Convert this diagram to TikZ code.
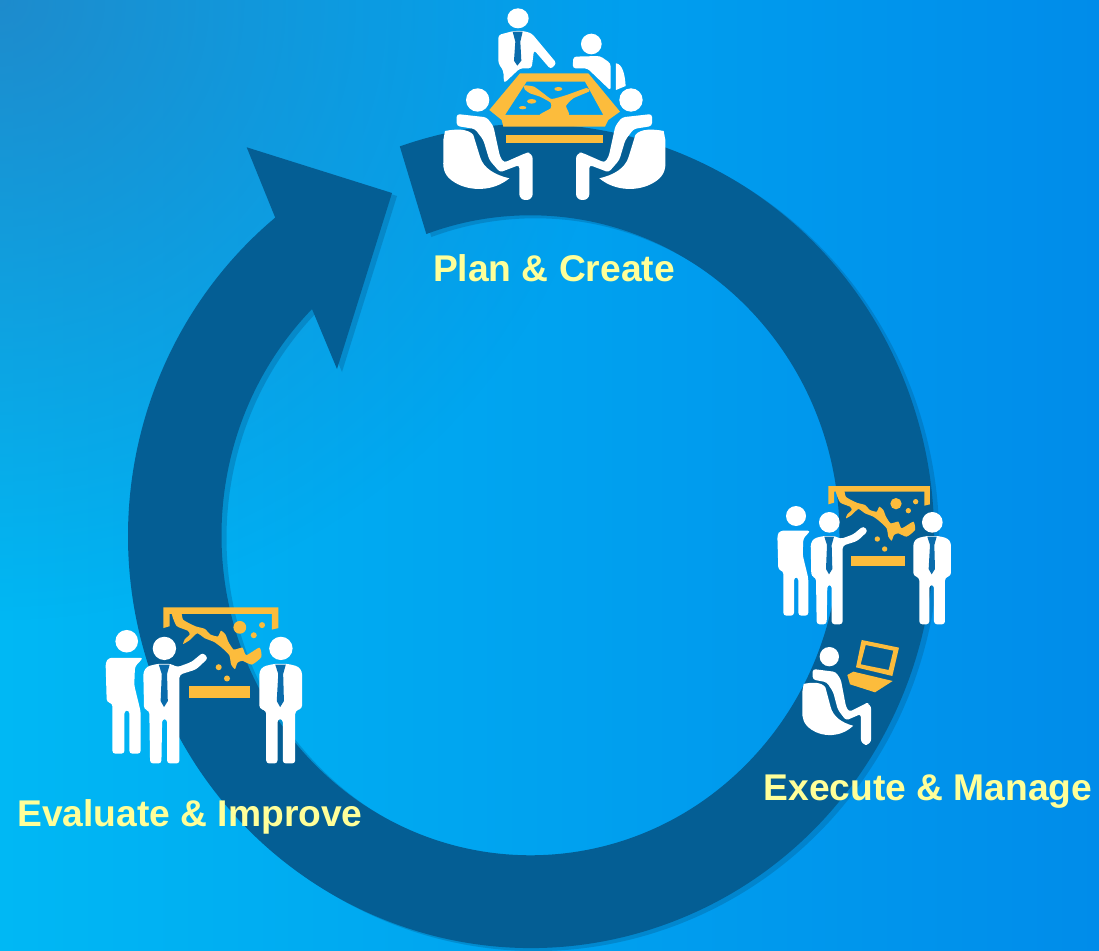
\documentclass[tikz,border=0pt]{standalone}
\usepackage{fontspec}
\setmainfont{Liberation Sans}
\usetikzlibrary{
  fadings,
  positioning
}
\definecolor{bgleft}{HTML}{00B8F4}
\definecolor{bgright}{HTML}{008CEA}
\definecolor{bgcorner}{HTML}{2A78BC}
\definecolor{ringblue}{HTML}{045E94}
\definecolor{gold}{HTML}{FCBC3C}
\definecolor{tieblue}{HTML}{0A6CAC}
\definecolor{labelyellow}{HTML}{FFFF99}
\tikzfading[name=cornerfade, inner color=transparent!30, outer color=transparent!100]
\newcommand{\cycleoutline}{
  (399.8,146.4) arc[start angle=251,end angle=590.6,x radius=403,y radius=412]
  -- (246.7,147.3) -- (392,193) -- (337,369) -- (312,309)
  arc[start angle=585,end angle=250.3,x radius=309,y radius=320] -- cycle
}

\begin{document}
\begin{tikzpicture}[
      x=1pt,y=-1pt,
      stage label/.style={
         font=\bfseries\fontsize{37.2}{37.2}\selectfont,
         text=labelyellow,
         inner sep=0pt
      },
      white part/.style={fill=white,rounded corners=3pt},
      gold part/.style={fill=gold},
      tie part/.style={fill=tieblue},
      briefing/.pic={
         % back man
         \fill[white] (78,123) circle (30);
         \fill[white part] (22,180) -- (30,167) -- (122,167) -- (100,190) -- (98,240) -- (115,310)
            -- (115,422) -- (85,422) -- (85,307) -- (72,307) -- (72,422) -- (40,422) -- (40,288) -- (25,285) -- cycle;
         % presenter
         \fill[white] (178,142) circle (31);
         \fill[white part] (122,205) -- (132,190) -- (160,183) -- (195,183) -- (212,192) -- (250,178)
            -- (280,153) -- (294,168) -- (262,198) -- (218,212) -- (218,448) -- (185,448) -- (185,330)
            -- (172,330) -- (170,448) -- (140,448) -- (138,308) -- (124,304) -- cycle;
         \fill[tie part] (163,185) -- (192,185) -- (185,210) -- (187,282) -- (177,298) -- (168,282) -- (171,210) -- cycle;
         % listener
         \fill[white] (487,142) circle (31);
         \fill[white part] (430,203) -- (440,190) -- (470,183) -- (505,183) -- (533,190) -- (543,203)
            -- (543,302) -- (525,308) -- (525,448) -- (492,448) -- (492,330) -- (478,330) -- (478,448)
            -- (448,448) -- (448,308) -- (430,302) -- cycle;
         \fill[tie part] (472,185) -- (500,185) -- (493,210) -- (495,282) -- (485,298) -- (476,282) -- (480,210) -- cycle;
         % board
         \fill[gold part] (175,33) -- (480,33) -- (480,88) -- (463,92) -- (463,50) -- (192,50) -- (192,83) -- (175,88) -- cycle;
         \fill[gold part] (243,243) rectangle (405,273);
         \fill[gold part] plot[smooth cycle,tension=.35] coordinates {
            (222,46) (228,66) (260,83) (285,90) (300,105) (320,110) (328,95) (340,105) (348,125) (362,145)
            (385,140) (395,160) (430,140) (435,165) (410,185) (385,175) (372,180) (365,197) (355,185)
            (350,160) (330,140) (310,125) (285,115) (265,102) (245,120) (228,130) (232,118) (245,105)
            (240,95) (210,82) (197,46)};
         \fill[gold part] (378,86) circle (17) (437,80) circle (8) (415,107) circle (8) (322,192) circle (8) (344,222) circle (8);
      },
      seated/.pic={
         \fill[white part] (80,378) -- (80,342) -- (170,352) -- (190,378) -- (210,470) -- (222,488)
            -- (290,458) [rounded corners=6pt] -- (308,458) -- (308,600) -- (268,600) [rounded corners=3pt] -- (268,495)
            -- (210,517) -- (178,480) -- (160,420) -- (135,387) -- cycle;
         \fill[white] (45,393) .. controls (75,387) and (115,385) .. (130,405) -- (150,470)
            .. controls (160,505) and (195,525) .. (238,535)
            .. controls (190,575) and (120,575) .. (75,548)
            .. controls (45,530) and (38,510) .. (40,480) -- (40,420) -- cycle;
      }
   ]
   \useasboundingbox (0,0) rectangle (1099,950);
   \clip (0,0) rectangle (1099,950);
   \fill[left color=bgleft,right color=bgright] (0,0) rectangle (1099,950);
   \fill[bgcorner,path fading=cornerfade] (0,0) circle (620);

   % ring with its arrow
   \fill[ringblue,opacity=.35,shift={(5,3)}] \cycleoutline;
   \fill[ringblue] \cycleoutline;

   % table group
   \begin{scope}[shift={(430,0)},scale=.3333]
      \fill[white] (264,55) ellipse (32 and 30);
      \fill[white part] (205,105) -- (250,93) -- (280,93) -- (305,100) -- (380,190) -- (362,208) -- (312,150)
         -- (305,205) -- (270,205) -- (222,250) -- (220,212) -- (205,190) -- cycle;
      \fill[tie part] (248,95) -- (278,95) -- (271,125) -- (274,182) -- (262,197) -- (252,182) -- (256,125) -- cycle;
      \fill[white] (484,132) circle (31);
      \fill[white part] (428,205) -- (430,170) -- (510,168) -- (542,190) -- (542,272) -- (472,205) -- cycle;
      \fill[white] (558,190) .. controls (578,192) and (585,225) .. (587,258) -- (558,270) -- cycle;
      \fill[gold part,even odd rule] (270,220) -- (475,220) -- (570,335) -- (535,360) -- (525,380) -- (220,380)
         -- (215,360) -- (178,330) -- cycle (290,245) -- (465,245) -- (520,345) -- (225,345) -- cycle;
      \fill[gold part] plot[smooth cycle,tension=.3] coordinates {
         (283,256) (312,260) (340,280) (365,297) (410,285) (470,264) (478,274) (430,295) (408,318) (416,346)
         (328,346) (362,325) (362,308) (330,290) (300,280) (284,268)};
      \fill[gold part] (385,267) ellipse (12 and 6) (305,304) ellipse (14 and 7) (278,323) ellipse (11 and 5);
      \fill[gold part] (228,405) rectangle (520,428);
      \fill[white] (143,300) circle (35) (603,300) circle (35);
   \end{scope}
   \pic[shift={(430,0)},scale=.3333] {seated};
   \pic[shift={(678.67,0)},xscale=-.3333,yscale=.3333] {seated};

   % execute group
   \pic[shift={(770,475)},scale=.3333] {briefing};
   \pic[shift={(792.07,568.3)},xscale=.2567,yscale=.2943] {seated};
   \begin{scope}[shift={(770,475)},scale=.3333]
      \fill[white] (178,545) circle (29);
      \fill[gold part,even odd rule] (275,495) -- (387,518) -- (367,603) -- (258,577) -- cycle
         (287,510) -- (370,527) -- (356,585) -- (272,568) -- cycle;
      \fill[gold part] (232,600) -- (250,590) -- (368,618) -- (315,652) -- (240,628) -- cycle;
   \end{scope}

   % evaluate group
   \pic[shift={(97.3,595)},xscale=.377,yscale=.376] {briefing};

   \node (plan) [stage label] at (554,268) {Plan \& Create};
   \node (execute) [stage label] at (928,792) {Execute \& Manage};
   \node (evaluate) [stage label] at (190,817) {Evaluate \& Improve};
\end{tikzpicture}
\end{document}
